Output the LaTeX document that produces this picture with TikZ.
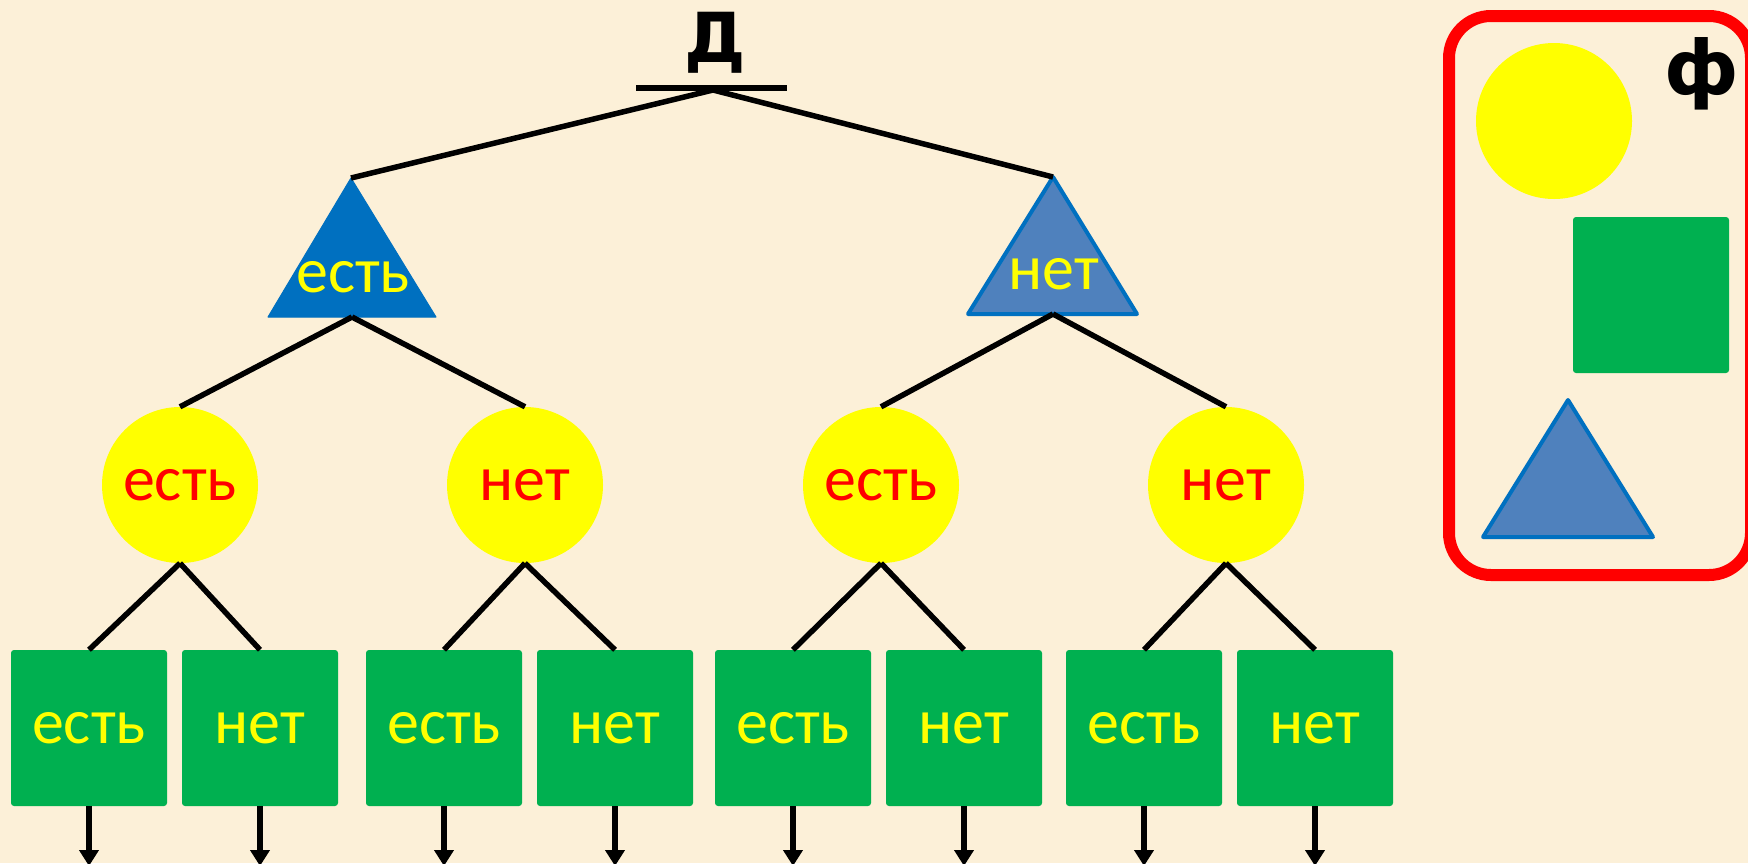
\documentclass[tikz,border=0pt]{standalone}
\usepackage{fontspec}
\newfontfamily\labelfont{Carlito}
\newfontfamily\headfont{DejaVu Sans}
\usetikzlibrary{arrows.meta}
\definecolor{paper}{HTML}{FCF0D8}
\definecolor{sun}{HTML}{FFFF00}
\definecolor{leaf}{HTML}{00B050}
\definecolor{deepblue}{HTML}{0070C0}
\definecolor{steelblue}{HTML}{4F81BD}
\definecolor{alarm}{HTML}{FF0000}
\begin{document}
\begin{tikzpicture}[x=1pt,y=-1pt,
  link/.style={line width=5.5pt, black},
  down/.style={line width=5.5pt, black, -{Triangle[width=19pt,length=16pt]}},
  word/.style={font=\labelfont\fontsize{64}{70}\selectfont, inner sep=0pt},
  disc/.style={circle, fill=sun, minimum size=156pt, inner sep=0pt,
    word, text=alarm},
  tile/.style={rectangle, fill=leaf, rounded corners=3pt, minimum size=156pt,
    inner sep=0pt, word, text=sun},
  tribox/.style={line width=1pt, line join=round},
]
% page and paper
\useasboundingbox (0,0) rectangle (1748,863);
\fill[paper] (0,0) rectangle (1748,863);

% title with underline
\node[anchor=base, font=\headfont\bfseries\fontsize{69}{72}\selectfont, inner sep=0pt]
  (title) at (715,62) {Д};
\coordinate (root) at (713,90);
\draw[line width=6pt] (636,88) -- (787,88);

% second level: two triangles
\coordinate (tA-top) at (351,178);
\coordinate (tA-bot) at (352,317);
\coordinate (tB-top) at (1053,177);
\coordinate (tB-bot) at (1053,314);
\filldraw[tribox, fill=deepblue, draw=deepblue] (tA-top) -- (268,317) -- (436,317) -- cycle;
\filldraw[fill=steelblue, draw=deepblue, line width=4pt, line join=round]
  (tB-top) -- (968,314) -- (1137,314) -- cycle;
\node[word, text=sun] (tA) at (353,277) {есть};
\node[word, text=sun] (tB) at (1054,274) {нет};

% third level: circles
\node[disc] (c1) at (180,485) {есть};
\node[disc] (c2) at (525,485) {нет};
\node[disc] (c3) at (881,485) {есть};
\node[disc] (c4) at (1226,485) {нет};

% fourth level: squares
\node[tile] (s1) at (89,728) {есть};
\node[tile] (s2) at (260,728) {нет};
\node[tile] (s3) at (444,728) {есть};
\node[tile] (s4) at (615,728) {нет};
\node[tile] (s5) at (793,728) {есть};
\node[tile] (s6) at (964,728) {нет};
\node[tile] (s7) at (1144,728) {есть};
\node[tile] (s8) at (1315,728) {нет};

% branches
\draw[link] (root) -- (tA-top);
\draw[link] (root) -- (tB-top);
\draw[link] (tA-bot) -- (c1.north);
\draw[link] (tA-bot) -- (c2.north);
\draw[link] (tB-bot) -- (c3.north);
\draw[link] (tB-bot) -- (c4.north);
\draw[link] (c1.south) -- (s1.north);
\draw[link] (c1.south) -- (s2.north);
\draw[link] (c2.south) -- (s3.north);
\draw[link] (c2.south) -- (s4.north);
\draw[link] (c3.south) -- (s5.north);
\draw[link] (c3.south) -- (s6.north);
\draw[link] (c4.south) -- (s7.north);
\draw[link] (c4.south) -- (s8.north);

% outgoing arrows
\foreach \i/\x in {1/89,2/260,3/444,4/615,5/793,6/964,7/1144,8/1315}{
  \coordinate (a\i) at (\x,866);
  \draw[down] (s\i.south) -- (a\i);
}

% legend frame
\draw[alarm, line width=12pt, rounded corners=42pt] (1449,16) rectangle (1751,575);
\node[anchor=base, font=\headfont\bfseries\fontsize{75}{78}\selectfont, inner sep=0pt]
  (legendtitle) at (1702,94) {ф};
\node[circle, fill=sun, minimum size=156pt, inner sep=0pt] (kdisc) at (1554,121) {};
\node[rectangle, fill=leaf, rounded corners=3pt, minimum size=156pt, inner sep=0pt]
  (ktile) at (1651,295) {};
\coordinate (ktri-top) at (1568,400);
\filldraw[fill=steelblue, draw=deepblue, line width=4pt, line join=round]
  (ktri-top) -- (1483,537) -- (1653,537) -- cycle;
\end{tikzpicture}
\end{document}
